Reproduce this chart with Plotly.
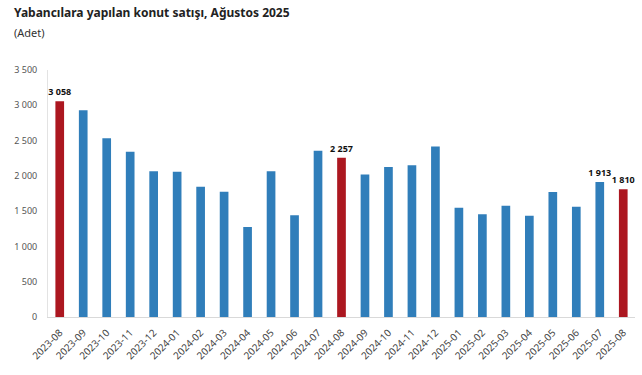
import plotly.graph_objects as go

months = ["2023-08", "2023-09", "2023-10", "2023-11", "2023-12",
          "2024-01", "2024-02", "2024-03", "2024-04", "2024-05", "2024-06", "2024-07", "2024-08",
          "2024-09", "2024-10", "2024-11", "2024-12",
          "2025-01", "2025-02", "2025-03", "2025-04", "2025-05", "2025-06", "2025-07", "2025-08"]
sales = [3058, 2930, 2533, 2340, 2067,
         2057, 1845, 1775, 1276, 2067, 1441, 2354, 2257,
         2021, 2124, 2152, 2416,
         1549, 1455, 1577, 1436, 1771, 1563, 1913, 1810]
highlight = ["2023-08", "2024-08", "2025-08"]
labelled = ["2023-08", "2024-08", "2025-07", "2025-08"]
y_ticks = [0, 500, 1000, 1500, 2000, 2500, 3000, 3500]

BLUE = "#307EBA"
RED = "#AC1720"

colors = [RED if m in highlight else BLUE for m in months]
texts = [f"{v:,}".replace(",", " ") if m in labelled else "" for m, v in zip(months, sales)]

fig = go.Figure(go.Bar(
    x=months, y=sales,
    marker=dict(color=colors, line=dict(width=0)),
    text=texts, textposition="outside", cliponaxis=False,
    constraintext="none",
    textfont=dict(family="Noto Sans", size=9, color="#111111", weight="bold"),
    hoverinfo="skip",
))

font_family = "Noto Sans"
fig.update_layout(
    width=642, height=375,
    margin=dict(l=48, r=7, t=70, b=58),
    plot_bgcolor="white", paper_bgcolor="white",
    bargap=0.63,
    showlegend=False,
    separators=", ",
    font=dict(family=font_family, size=9, color="#555555"),
    xaxis=dict(
        type="category", tickangle=-45,
        showline=True, linecolor="#D9D9D9", linewidth=1,
        showgrid=False, ticks="",
        ticklabelstandoff=5,
        tickfont=dict(size=10, color="#444444"),
    ),
    yaxis=dict(
        range=[0, 3500], tickvals=y_ticks,
        tickformat=",d", separatethousands=True,
        showline=True, linecolor="#E3E3E3", linewidth=1,
        showgrid=False, zeroline=False, ticks="",
        ticklabelstandoff=8,
        tickfont=dict(size=9, color="#555555"),
    ),
    annotations=[
        dict(text="<b>Yabancılara yapılan konut satışı, Ağustos 2025</b>",
             xref="paper", yref="paper", x=(12 - 48) / 587, y=1 + (70 - 13) / 247,
             xanchor="left", yanchor="middle", showarrow=False,
             font=dict(family=font_family, size=12, color="#222222")),
        dict(text="(Adet)",
             xref="paper", yref="paper", x=(12 - 48) / 587, y=1 + (70 - 32) / 247,
             xanchor="left", yanchor="middle", showarrow=False,
             font=dict(family=font_family, size=11, color="#333333")),
    ],
)

fig.write_html("out.html", config={"displayModeBar": False},
               post_script="document.body.style.margin='0';document.body.style.padding='0';")
